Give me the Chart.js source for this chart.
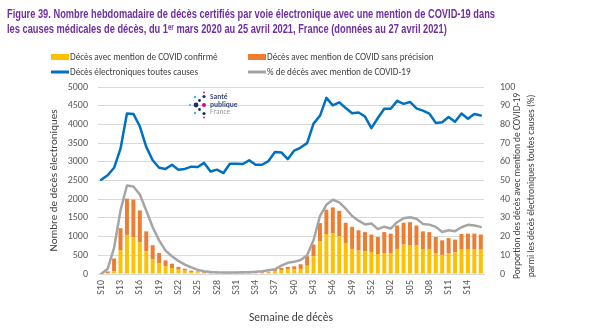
<!DOCTYPE html>
<html><head><meta charset="utf-8">
<script src="https://cdn.jsdelivr.net/npm/chart.js@4/dist/chart.umd.min.js"></script>
<style>html,body{margin:0;padding:0;background:#fff}#wrap{width:600px;height:330px}</style>
</head><body><div id="wrap"><canvas id="c" width="600" height="330"></canvas></div>
<script>
const titleLines = [
  "Figure 39. Nombre hebdomadaire de décès certifiés par voie électronique avec une mention de COVID-19 dans",
  "les causes médicales de décès, du 1ᵉʳ mars 2020 au 25 avril 2021, France (données au 27 avril 2021)"
];
const weeks = ["S10","S11","S12","S13","S14","S15","S16","S17","S18","S19","S20","S21","S22","S23","S24","S25","S26","S27","S28","S29","S30","S31","S32","S33","S34","S35","S36","S37","S38","S39","S40","S41","S42","S43","S44","S45","S46","S47","S48","S49","S50","S51","S52","S53","S01","S02","S03","S04","S05","S06","S07","S08","S09","S10","S11","S12","S13","S14","S15","S16"];
const covidConfirme = [0,20,70,640,1045,985,840,610,400,280,205,160,115,90,55,45,35,25,20,18,18,18,18,22,25,28,35,65,100,120,120,135,220,475,880,1070,1090,1010,830,670,625,610,590,535,560,560,670,785,775,760,650,670,560,510,560,580,650,650,650,650];
const covidSansPrecision = [5,50,345,585,970,1005,860,530,370,280,160,115,75,50,35,25,20,20,15,12,12,12,12,13,15,17,25,45,60,70,85,125,258,313,480,650,690,680,540,590,545,510,465,455,560,520,625,585,610,535,490,450,430,390,400,340,420,430,430,405];
const toutesCauses = [2520,2640,2840,3350,4290,4280,3950,3400,3040,2840,2810,2920,2790,2810,2870,2860,2970,2740,2790,2700,2950,2950,2940,3040,2920,2920,3020,3260,3250,3070,3300,3380,3500,4020,4230,4710,4510,4590,4440,4300,4320,4210,3900,4170,4420,4420,4630,4550,4600,4430,4370,4290,4040,4060,4200,4070,4290,4150,4280,4240];
const pctCovid = [0,2.8,14,34,47.3,46.8,42.5,34,25,18,12.5,9.5,7,5,3.5,2.2,1.5,1.1,0.9,0.8,0.8,0.8,0.9,1.0,1.2,1.5,2,2.5,4.5,6,6.5,7.5,10,18,31,37,39.7,38.3,35,31,28.5,26.5,27,24,25.3,24.3,27.7,29.8,30.3,29.5,26.8,26.4,25.2,22.5,23.4,22.9,25,26.3,25.9,25.2];
const seriesNames = ["Décès avec mention de COVID confirmé","Décès avec mention de COVID sans précision","Décès électroniques toutes causes","% de décès avec mention de COVID-19"];
const leftTitle = "Nombre de décès électroniques";
const rightTitle = ["Porportion des décès avec mention de COVID-19","parmi les décès électroniques toutes causes (%)"];
const xTitle = "Semaine de décès";

const FONT = "Carlito, Lato, 'Liberation Sans', sans-serif";
const TFONT = "'Liberation Sans', Arial, sans-serif";
const C_YEL = '#FFC000', C_ORA = '#ED7D31', C_BLU = '#0070C0', C_GRY = '#A5A5A5';
const TXT = '#595959', TXT2 = '#404040';

function condensedText(ctx, text, x, y, sx) {
  ctx.save(); ctx.translate(x, y); ctx.scale(sx, 1); ctx.fillText(text, 0, 0); ctx.restore();
}

const headerPlugin = {
  id: 'header',
  afterDraw(chart) {
    const ctx = chart.ctx;
    ctx.save();
    ctx.font = "bold 12.5px " + TFONT;
    ctx.fillStyle = '#7030A0';
    ctx.textBaseline = 'middle'; ctx.textAlign = 'left';
    const sx = 488 / ctx.measureText(titleLines[0]).width;
    condensedText(ctx, titleLines[0], 7, 15, sx);
    condensedText(ctx, titleLines[1], 7, 30, sx);
    ctx.restore();

    const ds = chart.data.datasets;
    const cols = [51, 248], rows = [57, 72];
    ctx.save();
    ctx.font = "10.5px " + FONT;
    ctx.textBaseline = 'middle'; ctx.textAlign = 'left';
    ds.forEach((d, i) => {
      const x = cols[i % 2], y = rows[Math.floor(i / 2)];
      if (d.type === 'line') {
        ctx.strokeStyle = d.borderColor; ctx.lineWidth = 3;
        ctx.beginPath(); ctx.moveTo(x, y); ctx.lineTo(x + 18, y); ctx.stroke();
      } else {
        ctx.fillStyle = d.backgroundColor; ctx.fillRect(x, y - 3, 18, 6);
      }
      ctx.fillStyle = TXT2;
      condensedText(ctx, d.label, x + 19, y, 0.875);
    });
    ctx.restore();
  }
};

const extrasPlugin = {
  id: 'extras',
  afterDraw(chart) {
    const ctx = chart.ctx;
    ctx.save();
    ctx.font = "10.5px " + FONT;
    ctx.fillStyle = TXT2;
    ctx.textAlign = 'center';
    ctx.textBaseline = 'middle';
    const cy = 186;
    [517, 531].forEach((x, i) => {
      ctx.save(); ctx.translate(x, cy); ctx.rotate(-Math.PI / 2); ctx.scale(0.9, 1);
      ctx.fillText(rightTitle[i], 0, 0); ctx.restore();
    });
    ctx.restore();
    ctx.save();
    const dots = [
      [196,105,2.4,'#1D2B6B'],[204,105,2,'#E5006D'],[204,96.5,1.6,'#1D2B6B'],[204,113.5,1.6,'#1D2B6B'],
      [199.5,100.5,1.4,'#1D2B6B'],[199.5,109.5,1.4,'#1D2B6B'],[195,97,1.2,'#3FB4E5'],[195,113,1.2,'#3FB4E5'],
      [190,105,1.1,'#3FB4E5'],[204,92.5,0.9,'#E5006D'],[204,117.5,0.9,'#E5006D']
    ];
    dots.forEach(([x,y,r,c]) => { ctx.fillStyle = c; ctx.beginPath(); ctx.arc(x,y,r,0,Math.PI*2); ctx.fill(); });
    ctx.textBaseline = 'middle'; ctx.textAlign = 'left';
    ctx.font = "bold 7.5px " + FONT;
    ctx.fillStyle = '#3C4A7A'; ctx.fillText('Santé', 210, 97.5); ctx.fillText('publique', 210, 105);
    ctx.font = "7.5px " + FONT; ctx.fillStyle = '#9A9A9A'; ctx.fillText('France', 210, 112.5);
    ctx.restore();
  }
};

new Chart(document.getElementById('c'), {
  type: 'bar',
  data: {
    labels: weeks,
    datasets: [
      {type: 'bar', label: seriesNames[0], data: covidConfirme, backgroundColor: C_YEL, yAxisID: 'y', stack: 'covid', order: 2, barPercentage: 0.62, categoryPercentage: 1},
      {type: 'bar', label: seriesNames[1], data: covidSansPrecision, backgroundColor: C_ORA, yAxisID: 'y', stack: 'covid', order: 2, barPercentage: 0.62, categoryPercentage: 1},
      {type: 'line', label: seriesNames[2], data: toutesCauses, borderColor: C_BLU, backgroundColor: C_BLU, borderWidth: 2.5, pointRadius: 0, tension: 0, yAxisID: 'y', stack: 'all', order: 0, borderJoinStyle: 'round', borderCapStyle: 'round'},
      {type: 'line', label: seriesNames[3], data: pctCovid, borderColor: C_GRY, backgroundColor: C_GRY, borderWidth: 2.5, pointRadius: 0, tension: 0, yAxisID: 'y1', order: 1, borderJoinStyle: 'round', borderCapStyle: 'round'}
    ]
  },
  options: {
    responsive: false, animation: false, devicePixelRatio: 1,
    layout: {padding: {left: 6, right: 0, top: 87, bottom: 0}},
    plugins: {
      legend: {display: false},
      tooltip: {enabled: false},
      title: {display: false}
    },
    scales: {
      x: {
        stacked: true,
        grid: {display: false, drawTicks: false},
        border: {display: true, color: '#D9D9D9'},
        ticks: {autoSkip: false, maxRotation: 90, minRotation: 90, padding: 6, color: TXT,
          font: {family: FONT, size: 10},
          callback: function(v, i) { return i % 3 === 0 ? weeks[i] : ''; }},
        title: {display: true, text: xTitle, color: TXT2, font: {family: FONT, size: 11.5}, padding: {top: 0, bottom: 5}},
        afterFit: s => { s.height = 56; }
      },
      y: {
        stacked: true, position: 'left', min: 0, max: 5000,
        ticks: {stepSize: 500, padding: 10, color: TXT, font: {family: FONT, size: 10}, callback: v => String(v)},
        grid: {color: '#D9D9D9', drawTicks: false},
        border: {display: false},
        title: {display: true, text: leftTitle, color: TXT2, font: {family: FONT, size: 11}, padding: {top: 42, bottom: 0}},
        afterFit: s => { s.width = 92; }
      },
      y1: {
        position: 'right', min: 0, max: 100,
        ticks: {stepSize: 10, padding: 16, color: TXT, font: {family: FONT, size: 10}, callback: v => String(v)},
        grid: {display: false, drawTicks: false},
        border: {display: false},
        afterFit: s => { s.width = 116; }
      }
    }
  },
  plugins: [headerPlugin, extrasPlugin]
});
</script>
</body></html>
